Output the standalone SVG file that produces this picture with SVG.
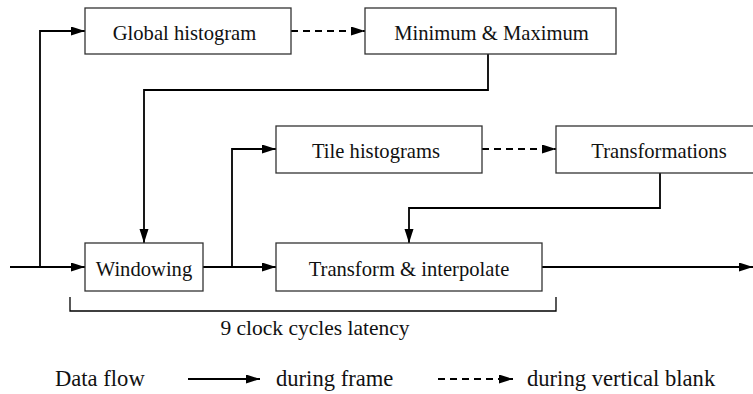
<svg xmlns="http://www.w3.org/2000/svg" width="753" height="394" viewBox="0 0 753 394">
<defs>
<marker id="ah" markerUnits="userSpaceOnUse" markerWidth="15" markerHeight="10" refX="14" refY="4.5" orient="auto">
<path d="M0,0 L14,4.5 L0,9 z" fill="#000"/>
</marker>
<style>
.box{fill:#fff;stroke:#333;stroke-width:1.3}
.lbl{font-family:"Liberation Serif","Times New Roman",serif;font-size:20.6px;fill:#111;text-anchor:middle}
.txt{font-family:"Liberation Serif","Times New Roman",serif;font-size:22.6px;fill:#111}
.c{fill:none;stroke:#000;stroke-width:1.8}
.d{fill:none;stroke:#000;stroke-width:1.8;stroke-dasharray:7 5}
.br{fill:none;stroke:#000;stroke-width:1.3}
</style>
</defs>
<rect width="753" height="394" fill="#fff"/>
<g id="connectors">
<path class="c" d="M10,267 H85" marker-end="url(#ah)"/>
<path class="c" d="M40,267 V31 H85" marker-end="url(#ah)"/>
<path class="d" d="M291,31 H365" marker-end="url(#ah)"/>
<path class="c" d="M488,54 V90 H144 V243" marker-end="url(#ah)"/>
<path class="c" d="M203,267 H276" marker-end="url(#ah)"/>
<path class="c" d="M232,267 V149 H276" marker-end="url(#ah)"/>
<path class="d" d="M482,149 H556" marker-end="url(#ah)"/>
<path class="c" d="M660,173 V208 H409 V243" marker-end="url(#ah)"/>
<path class="c" d="M542,267 H753" marker-end="url(#ah)"/>
</g>
<g id="global-histogram">
<rect class="box" x="85" y="8" width="206" height="46"/>
<text class="lbl" x="184.5" y="39.5">Global histogram</text>
</g>
<g id="min-max">
<rect class="box" x="365" y="8" width="251" height="46"/>
<text class="lbl" x="491.5" y="39.5">Minimum &amp; Maximum</text>
</g>
<g id="tile-histograms">
<rect class="box" x="276" y="126" width="206" height="47"/>
<text class="lbl" x="376" y="157.5">Tile histograms</text>
</g>
<g id="transformations">
<rect class="box" x="556" y="126" width="206" height="47"/>
<text class="lbl" x="659" y="157.5">Transformations</text>
</g>
<g id="windowing">
<rect class="box" x="85" y="243" width="118" height="48"/>
<text class="lbl" x="144" y="275.5">Windowing</text>
</g>
<g id="transform-interpolate">
<rect class="box" x="276" y="243" width="266" height="48"/>
<text class="lbl" x="409" y="275.5">Transform &amp; interpolate</text>
</g>
<g id="latency">
<path class="br" d="M70,297 V311 H556 V297"/>
<text class="lbl" x="315" y="335" style="font-size:21.5px">9 clock cycles latency</text>
</g>
<g id="legend">
<text class="txt" x="55" y="386">Data flow</text>
<path class="c" d="M188,379 H260" marker-end="url(#ah)"/>
<text class="txt" x="276" y="386">during frame</text>
<path class="d" d="M438,379 H513" marker-end="url(#ah)"/>
<text class="txt" x="527" y="386">during vertical blank</text>
</g>
</svg>
